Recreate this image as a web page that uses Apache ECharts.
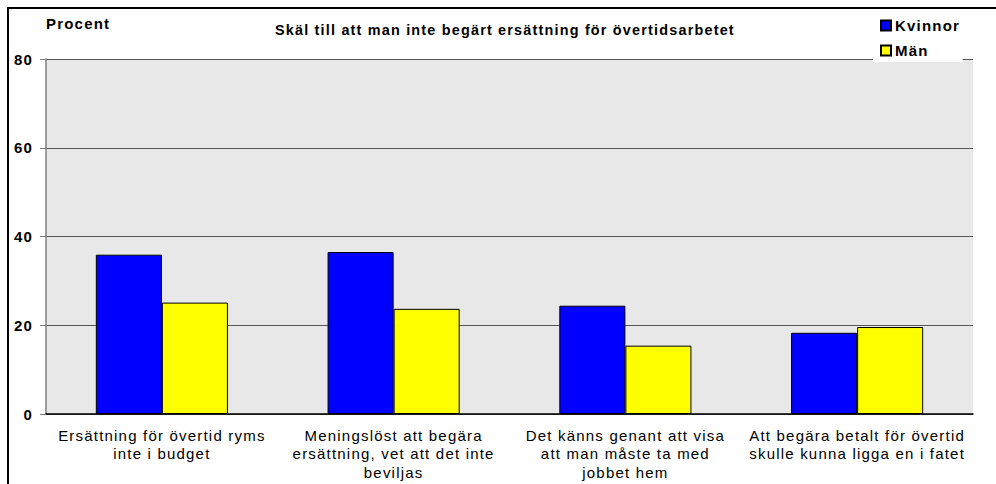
<!DOCTYPE html>
<html>
<head>
<meta charset="utf-8">
<script src="https://cdn.jsdelivr.net/npm/echarts@6/dist/echarts.min.js"></script>
<style>
  html, body { margin: 0; padding: 0; background: #fff; }
  #chart { width: 996px; height: 484px; }
  /* the original uses widely spaced Helvetica-like lettering */
  #chart svg text { letter-spacing: 1.2px; }
</style>
</head>
<body>
<div id="chart"></div>
<script>
var categories = [
  'Ersättning för övertid ryms\ninte i budget',
  'Meningslöst att begära\nersättning, vet att det inte\nbeviljas',
  'Det känns genant att visa\natt man måste ta med\njobbet hem',
  'Att begära betalt för övertid\nskulle kunna ligga en i fatet'
];
var kvinnor = [35.9, 36.5, 24.4, 18.3];
var man = [25.1, 23.7, 15.4, 19.6];
var yTicks = [0, 20, 40, 60, 80];

var font = 'Liberation Sans, Arial, sans-serif';
var chart = echarts.init(document.getElementById('chart'), null, { renderer: 'svg' });
chart.setOption({
  animation: false,
  textStyle: { fontFamily: font },
  title: {
    text: 'Skäl till att man inte begärt ersättning för övertidsarbetet',
    left: 270,
    top: 18,
    textStyle: { fontSize: 14.4, fontWeight: 'bold', color: '#000', fontFamily: font }
  },
  legend: {
    orient: 'vertical',
    left: 873,
    top: 10,
    padding: [8, 11, 4, 7],
    itemGap: 10,
    itemWidth: 10,
    itemHeight: 10,
    backgroundColor: '#fff',
    z: 10,
    textStyle: { fontSize: 15, fontWeight: 'bold', color: '#000', padding: [0, 0, 0, -1] },
    data: [
      { name: 'Kvinnor', icon: 'rect' },
      { name: 'Män', icon: 'rect' }
    ]
  },
  graphic: [{
    type: 'rect',
    shape: { x: 8, y: 8, width: 1000, height: 500 },
    style: { fill: 'none', stroke: '#000', lineWidth: 2 },
    silent: true
  }],
  grid: {
    left: 46, right: 23, top: 59, bottom: 70,
    show: true,
    backgroundColor: '#e8e8e8',
    borderWidth: 0
  },
  xAxis: {
    type: 'category',
    data: categories,
    axisLine: { lineStyle: { color: '#000', width: 1.5 } },
    axisTick: { show: false },
    axisLabel: {
      margin: 12,
      fontSize: 15,
      color: '#000',
      lineHeight: 18.5,
      interval: 0
    }
  },
  yAxis: {
    type: 'value',
    min: yTicks[0],
    max: yTicks[yTicks.length - 1],
    interval: 20,
    name: 'Procent',
    nameLocation: 'end',
    nameGap: 28,
    nameTextStyle: { fontSize: 15, fontWeight: 'bold', color: '#000', align: 'left', padding: [0, 0, 0, 0] },
    axisLine: { show: true, lineStyle: { color: '#808080', width: 1.5 } },
    axisTick: { show: true, length: 6, lineStyle: { color: '#808080' } },
    axisLabel: { margin: 13, fontSize: 15, fontWeight: 'bold', color: '#000' },
    splitLine: { lineStyle: { color: '#555', width: 1 } }
  },
  series: [
    {
      name: 'Kvinnor',
      type: 'bar',
      data: kvinnor,
      barGap: '0%',
      barCategoryGap: '43%',
      itemStyle: { color: '#0000ff', borderColor: '#000', borderWidth: 1 }
    },
    {
      name: 'Män',
      type: 'bar',
      data: man,
      itemStyle: { color: '#ffff00', borderColor: '#000', borderWidth: 1 }
    }
  ]
});
</script>
</body>
</html>
